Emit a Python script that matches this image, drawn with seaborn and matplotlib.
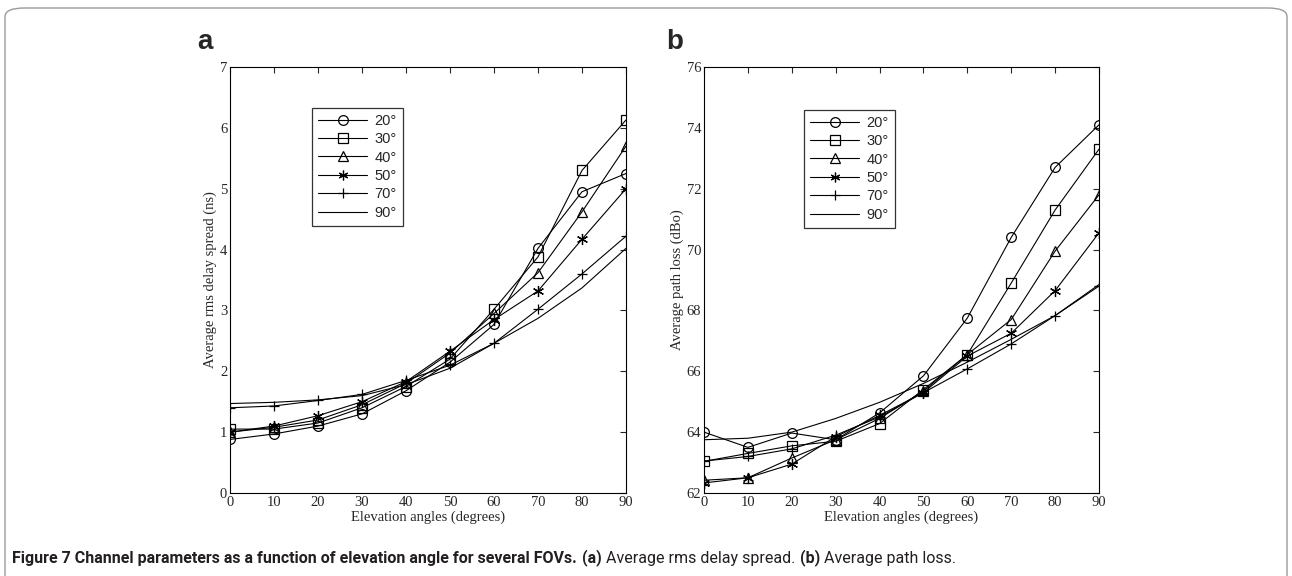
import numpy as np
import pandas as pd
import matplotlib.pyplot as plt
import seaborn as sns
from matplotlib.patches import FancyBboxPatch
from matplotlib.lines import Line2D

elev = [0, 10, 20, 30, 40, 50, 60, 70, 80, 90]
fovs = ['20°', '30°', '40°', '50°', '70°', '90°']
# asterisk = 6-arm line-art star
markers = ['o', 's', '^', (6, 2, 0), '+', None]

# (a) average rms delay spread (ns)
delay_20 = [0.88, 0.97, 1.10, 1.30, 1.68, 2.15, 2.77, 4.02, 4.95, 5.25]
delay_30 = [1.05, 1.05, 1.15, 1.40, 1.75, 2.20, 3.02, 3.88, 5.30, 6.13]
delay_40 = [1.00, 1.08, 1.20, 1.45, 1.80, 2.30, 2.95, 3.62, 4.62, 5.70]
delay_50 = [1.00, 1.10, 1.27, 1.50, 1.83, 2.33, 2.85, 3.32, 4.17, 5.00]
delay_70 = [1.40, 1.43, 1.52, 1.62, 1.85, 2.10, 2.46, 3.02, 3.60, 4.22]
delay_90 = [1.47, 1.49, 1.53, 1.60, 1.78, 2.05, 2.46, 2.87, 3.37, 4.02]

# (b) average path loss (dBo)
loss_20 = [64.00, 63.50, 63.97, 63.75, 64.63, 65.85, 67.75, 70.40, 72.70, 74.10]
loss_30 = [63.04, 63.30, 63.55, 63.70, 64.28, 65.40, 66.55, 68.90, 71.30, 73.30]
loss_40 = [62.42, 62.50, 63.15, 63.75, 64.45, 65.35, 66.55, 67.70, 69.95, 71.80]
loss_50 = [62.33, 62.50, 62.95, 63.85, 64.55, 65.30, 66.50, 67.25, 68.65, 70.55]
loss_70 = [63.05, 63.20, 63.45, 63.90, 64.50, 65.30, 66.08, 66.90, 67.83, 68.80]
loss_90 = [63.75, 63.80, 64.00, 64.45, 64.98, 65.60, 66.30, 67.05, 67.83, 68.85]

delay = [delay_20, delay_30, delay_40, delay_50, delay_70, delay_90]
loss = [loss_20, loss_30, loss_40, loss_50, loss_70, loss_90]

sns.set_style('white')
serif = 'Liberation Serif'

fig = plt.figure(figsize=(12.92, 5.76), dpi=100)
ax_a = fig.add_axes([230/1292, 1 - 493/576, 396/1292, 426/576])
ax_b = fig.add_axes([704/1292, 1 - 493/576, 395/1292, 426/576])


def draw(ax, series, ylim, yticks, ylabel, leg_pos):
    for fov, vals, m in zip(fovs, series, markers):
        df = pd.DataFrame({'x': elev, 'y': vals})
        sns.lineplot(data=df, x='x', y='y', ax=ax, color='black', lw=0.8,
                     marker=m, markersize=8 if m == (6, 2, 0) else 7,
                     markerfacecolor='none', markeredgecolor='black',
                     markeredgewidth=0.9)
    ax.set_xlim(0, 90)
    ax.set_ylim(*ylim)
    ax.set_xticks(elev)
    ax.set_yticks(yticks)
    ax.tick_params(direction='in', top=True, right=True, length=4, width=0.8,
                   labelsize=10.5, pad=2)
    for lab in ax.get_xticklabels() + ax.get_yticklabels():
        lab.set_family(serif)
    for s in ax.spines.values():
        s.set_color('black')
        s.set_linewidth(0.8)
    ax.set_xlabel('Elevation angles (degrees)', family=serif, fontsize=10.5, labelpad=1)
    ax.set_ylabel(ylabel, family=serif, fontsize=10.5, labelpad=2)
    handles = [Line2D([], [], color='black', lw=0.8, marker=m,
                      markersize=7, markerfacecolor='none', markeredgewidth=0.9)
               for m in markers]
    leg = ax.legend(handles, fovs, loc='upper left', bbox_to_anchor=leg_pos,
                    frameon=True, fancybox=False, edgecolor='black',
                    prop={'family': 'Liberation Sans', 'size': 10.5},
                    handlelength=3.4, handletextpad=0.5, labelspacing=0.3,
                    borderpad=0.4, borderaxespad=0)
    leg.get_frame().set_linewidth(0.9)


draw(ax_a, delay, (0, 7), range(0, 8), 'Average rms delay spread (ns)',
     ((312 - 230) / 396, (493 - 108) / 426))
draw(ax_b, loss, (62, 76), range(62, 77, 2), 'Average path loss (dBo)',
     ((804 - 704) / 395, (493 - 110) / 426))

fig.text(205/1292, 1 - 42/576, 'a', fontsize=20, fontweight='bold',
         ha='center', va='center', family='Liberation Sans')
fig.text(675/1292, 1 - 42/576, 'b', fontsize=20, fontweight='bold',
         ha='center', va='center', family='Liberation Sans')

# caption, built piece by piece
cap_font = 'Roboto'
cap_size = 11.5
pieces = [('Figure 7 Channel parameters as a function of elevation angle for several FOVs.', 'bold', 0),
          ('(a)', 'bold', 5), ('Average rms delay spread.', 'normal', 4),
          ('(b)', 'bold', 5), ('Average path loss.', 'normal', 4)]
x = 12
for txt, wt, gap in pieces:
    x += gap
    t = fig.text(x / 1292, 1 - 558/576, txt, fontsize=cap_size, fontweight=wt,
                 family=cap_font, va='center', color='#231f20')
    fig.canvas.draw()
    x = t.get_window_extent().x1

# rounded frame around the figure
frame = FancyBboxPatch((5/1292, -0.05), 1282/1292, 1 - 8/576 + 0.05,
                       boxstyle='round,pad=0,rounding_size=0.015',
                       transform=fig.transFigure, fill=False,
                       edgecolor='#9a9a9a', lw=1.0, clip_on=False)
fig.patches.append(frame)

plt.savefig('out.png', dpi=100)
